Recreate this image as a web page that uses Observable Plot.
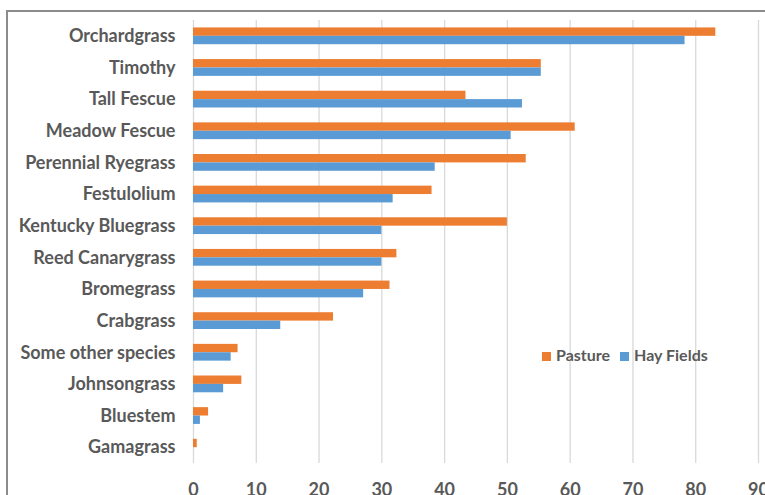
<!DOCTYPE html>
<html>
<head>
<meta charset="utf-8">
<script src="https://cdn.jsdelivr.net/npm/d3@7"></script>
<script src="https://cdn.jsdelivr.net/npm/@observablehq/plot@0.6"></script>
<style>
  html, body { margin: 0; padding: 0; background: #fff; overflow: hidden; }
  #wrap { position: relative; width: 765px; height: 495px; }
  #frame { position: absolute; left: 6px; top: 10px; width: 820px; height: 600px;
           border-top: 2px solid #8c8c8c; border-left: 2px solid #8c8c8c; box-sizing: border-box; }
  #chart { position: absolute; left: 0; top: 0; }
  #chart svg text { font-weight: bold; }
  #legend { position: absolute; left: 542px; top: 345px; font-family: Lato, "Open Sans", sans-serif;
            font-weight: bold; font-size: 16px; color: #595959; white-space: nowrap; }
  #legend .sw { display: inline-block; width: 9px; height: 9px; margin-right: 5px; vertical-align: 0px; }
  #legend .item { margin-right: 10px; }
</style>
</head>
<body>
<div id="wrap">
  <div id="frame"></div>
  <div id="chart"></div>
  <div id="legend"></div>
</div>
<script>
const categories = ["Orchardgrass", "Timothy", "Tall Fescue", "Meadow Fescue", "Perennial Ryegrass",
  "Festulolium", "Kentucky Bluegrass", "Reed Canarygrass", "Bromegrass", "Crabgrass",
  "Some other species", "Johnsongrass", "Bluestem", "Gamagrass"];
const pasture = [83.2, 55.4, 43.4, 60.8, 53.0, 38.0, 50.0, 32.4, 31.3, 22.3, 7.1, 7.7, 2.4, 0.6];
const hay     = [78.3, 55.4, 52.4, 50.6, 38.5, 31.8, 30.0, 30.0, 27.1, 13.9, 6.0, 4.8, 1.1, 0];
const xTicks = [0, 10, 20, 30, 40, 50, 60, 70, 80, 90];
const seriesNames = ["Pasture", "Hay Fields"];
const seriesColors = ["#ED7D31", "#5B9BD5"];

const rows = categories.map((c, i) => ({category: c, pasture: pasture[i], hay: hay[i]}));

const H = 495, mt = 20, mb = 32, pi = 0.47;
const step = (H - mt - mb) / categories.length;
const half = step * (1 - pi) / 2;

const chart = Plot.plot({
  width: 765,
  height: H,
  marginLeft: 193,
  marginRight: 7,
  marginTop: mt,
  marginBottom: mb,
  style: {fontFamily: "Lato, 'Open Sans', sans-serif", fontSize: "18px", color: "#595959", background: "transparent"},
  x: {domain: [0, 90]},
  y: {domain: categories, paddingInner: pi, paddingOuter: pi / 2, round: false},
  marks: [
    Plot.gridX(xTicks, {stroke: "#d9d9d9", strokeOpacity: 1, strokeWidth: 1.3}),
    Plot.barX(rows, {y: "category", x: "pasture", fill: seriesColors[0], insetBottom: half}),
    Plot.barX(rows, {y: "category", x: "hay", fill: seriesColors[1], insetTop: half}),
    Plot.axisY({tickSize: 0, tickPadding: 18, label: null, fontSize: 18}),
    Plot.axisX({ticks: xTicks, tickSize: 0, tickPadding: 20, label: null, fontSize: 18})
  ]
});
document.getElementById("chart").appendChild(chart);

const legend = document.getElementById("legend");
seriesNames.forEach((n, i) => {
  const item = document.createElement("span");
  item.className = "item";
  const sw = document.createElement("span");
  sw.className = "sw";
  sw.style.background = seriesColors[i];
  item.appendChild(sw);
  item.appendChild(document.createTextNode(n));
  legend.appendChild(item);
});
</script>
</body>
</html>
